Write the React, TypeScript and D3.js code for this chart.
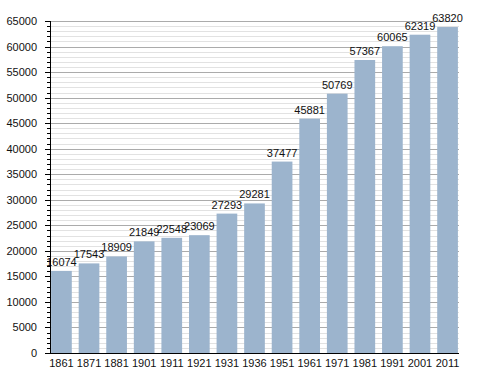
import { useEffect, useRef } from "react";
import * as d3 from "d3";

const years = ["1861", "1871", "1881", "1901", "1911", "1921", "1931", "1936", "1951", "1961", "1971", "1981", "1991", "2001", "2011"];
const population = [16074, 17543, 18909, 21849, 22548, 23069, 27293, 29281, 37477, 45881, 50769, 57367, 60065, 62319, 63820];
const majorTicks = [0, 5000, 10000, 15000, 20000, 25000, 30000, 35000, 40000, 45000, 50000, 55000, 60000, 65000];

const WIDTH = 488;
const HEIGHT = 373;
const MARGIN = { top: 21, right: 29, bottom: 20, left: 50 };

function App() {
  const ref = useRef<SVGSVGElement | null>(null);

  useEffect(() => {
    if (!ref.current) return;
    const svg = d3.select(ref.current);
    svg.selectAll("*").remove();

    const x = d3
      .scaleBand()
      .domain(years)
      .range([MARGIN.left, WIDTH - MARGIN.right])
      .paddingInner(0.25)
      .paddingOuter(0.04);

    const y = d3
      .scaleLinear()
      .domain([0, 65000])
      .range([HEIGHT - MARGIN.bottom, MARGIN.top]);

    const minor = d3.range(0, 65001, 1000);

    // minor grid
    svg
      .append("g")
      .selectAll("line")
      .data(minor.filter((v) => v % 5000 !== 0))
      .join("line")
      .attr("x1", MARGIN.left)
      .attr("x2", WIDTH - MARGIN.right)
      .attr("y1", (d) => Math.round(y(d)) + 0.5)
      .attr("y2", (d) => Math.round(y(d)) + 0.5)
      .attr("stroke", "#e2e2e2")
      .attr("stroke-width", 1);

    // major grid
    svg
      .append("g")
      .selectAll("line")
      .data(majorTicks.filter((v) => v > 0))
      .join("line")
      .attr("x1", MARGIN.left)
      .attr("x2", WIDTH - MARGIN.right)
      .attr("y1", (d) => Math.round(y(d)) + 0.5)
      .attr("y2", (d) => Math.round(y(d)) + 0.5)
      .attr("stroke", "#ababab")
      .attr("stroke-width", 1);

    // bars
    svg
      .append("g")
      .selectAll("rect")
      .data(population)
      .join("rect")
      .attr("x", (_, i) => x(years[i]) || 0)
      .attr("y", (d) => y(d))
      .attr("width", x.bandwidth())
      .attr("height", (d) => y(0) - y(d))
      .attr("fill", "#9cb4cd");

    // value labels
    svg
      .append("g")
      .selectAll("text")
      .data(population)
      .join("text")
      .attr("x", (_, i) => (x(years[i]) || 0) + x.bandwidth() / 2)
      .attr("y", (d) => y(d) - 5)
      .attr("text-anchor", "middle")
      .attr("font-family", "Liberation Sans, Arial, sans-serif")
      .attr("font-size", 11)
      .attr("fill", "#111")
      .text((d) => String(d));

    // y axis line and ticks
    const yAxis = svg.append("g");
    yAxis
      .append("line")
      .attr("x1", MARGIN.left + 0.5)
      .attr("x2", MARGIN.left + 0.5)
      .attr("y1", y(65000))
      .attr("y2", y(0))
      .attr("stroke", "#000");
    yAxis
      .selectAll("line.minor")
      .data(minor)
      .join("line")
      .attr("class", "minor")
      .attr("x1", (d) => (d % 5000 === 0 ? MARGIN.left - 5 : MARGIN.left - 3))
      .attr("x2", MARGIN.left)
      .attr("y1", (d) => Math.round(y(d)) + 0.5)
      .attr("y2", (d) => Math.round(y(d)) + 0.5)
      .attr("stroke", "#000");
    yAxis
      .selectAll("text")
      .data(majorTicks)
      .join("text")
      .attr("x", MARGIN.left - 13)
      .attr("y", (d) => y(d) + 4)
      .attr("text-anchor", "end")
      .attr("font-family", "Liberation Sans, Arial, sans-serif")
      .attr("font-size", 11)
      .attr("fill", "#111")
      .text((d) => String(d));

    // x axis
    const xAxis = svg.append("g");
    xAxis
      .append("line")
      .attr("x1", MARGIN.left)
      .attr("x2", WIDTH - MARGIN.right)
      .attr("y1", y(0) + 0.5)
      .attr("y2", y(0) + 0.5)
      .attr("stroke", "#000");
    xAxis
      .selectAll("text")
      .data(years)
      .join("text")
      .attr("x", (d) => (x(d) || 0) + x.bandwidth() / 2)
      .attr("y", y(0) + 14)
      .attr("text-anchor", "middle")
      .attr("font-family", "Liberation Sans, Arial, sans-serif")
      .attr("font-size", 11)
      .attr("fill", "#111")
      .text((d) => d);
  }, []);

  return (
    <svg
      ref={ref}
      width={WIDTH}
      height={HEIGHT}
      style={{ position: "absolute", left: 0, top: 0, background: "#fff" }}
    />
  );
}

export default App;
